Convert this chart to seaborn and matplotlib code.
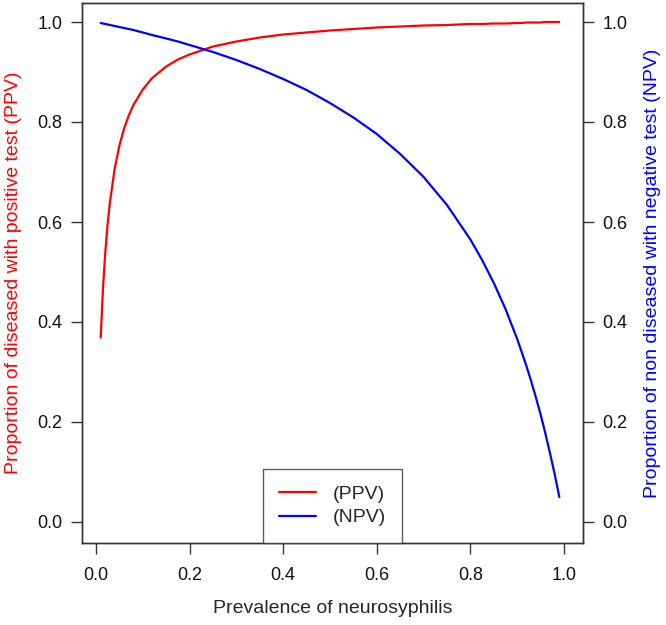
import numpy as np
import pandas as pd
import matplotlib
matplotlib.use("Agg")
import matplotlib.pyplot as plt
import seaborn as sns

# values
prevalence = [0.01, 0.015, 0.02, 0.025, 0.03, 0.04, 0.05, 0.06, 0.07, 0.08, 0.10, 0.12,
              0.15, 0.175, 0.20, 0.25, 0.30, 0.35, 0.40, 0.45, 0.50, 0.55, 0.60, 0.65,
              0.70, 0.75, 0.80, 0.825, 0.85, 0.875, 0.90, 0.91, 0.92, 0.93, 0.94, 0.95,
              0.96, 0.97, 0.98, 0.99]
ppv = [0.369, 0.468, 0.541, 0.597, 0.641, 0.707, 0.753, 0.787, 0.813, 0.834, 0.865, 0.888,
       0.911, 0.925, 0.935, 0.951, 0.961, 0.969, 0.975, 0.979, 0.983, 0.986, 0.989, 0.991,
       0.993, 0.994, 0.996, 0.996, 0.997, 0.997, 0.998, 0.998, 0.999, 0.999, 0.999, 0.999,
       1.000, 1.000, 1.000, 1.000]
npv = [0.998, 0.997, 0.996, 0.995, 0.994, 0.992, 0.990, 0.988, 0.986, 0.984, 0.979, 0.974,
       0.967, 0.961, 0.954, 0.940, 0.924, 0.906, 0.886, 0.864, 0.838, 0.809, 0.776, 0.736,
       0.690, 0.634, 0.565, 0.524, 0.478, 0.426, 0.366, 0.339, 0.311, 0.281, 0.249, 0.215,
       0.178, 0.138, 0.096, 0.050]

df = pd.DataFrame({"prev": prevalence, "PPV": ppv, "NPV": npv})

sns.set_style("ticks")
plt.rcParams['font.family'] = ['Liberation Sans', 'DejaVu Sans']

fig = plt.figure(figsize=(6.66, 6.25), dpi=100)
ax = fig.add_axes([82/666, 1 - 543/625, (583-82)/666, (543-3)/625])
ax2 = ax.twinx()

sns.lineplot(data=df, x="prev", y="PPV", color="#ff0000", lw=1.6, ax=ax, label="(PPV)")
sns.lineplot(data=df, x="prev", y="NPV", color="#0000ff", lw=1.6, ax=ax2, label="(NPV)")

xlim = (-0.0299, 1.0406)
ylim = (-0.042, 1.038)
fmt = matplotlib.ticker.FormatStrFormatter('%.1f')
for a in (ax, ax2):
    a.set_xlim(xlim)
    a.set_ylim(ylim)
    a.set_yticks([0.0, 0.2, 0.4, 0.6, 0.8, 1.0])
    a.yaxis.set_major_formatter(fmt)
    a.tick_params(length=8, width=1, labelsize=13, pad=6, color="#333333", labelcolor="#111111")
    for s in a.spines.values():
        s.set_color("#333333")
        s.set_linewidth(1)
ax.set_xticks([0.0, 0.2, 0.4, 0.6, 0.8, 1.0])
ax.xaxis.set_major_formatter(fmt)
ax.tick_params(axis="x", pad=9)

ax.set_xlabel("Prevalence of neurosyphilis", fontsize=14, labelpad=12)
ax.set_ylabel("Proportion of diseased with positive test (PPV)", color="#ff0000", fontsize=14, labelpad=11)
ax2.set_ylabel("Proportion of non diseased with negative test (NPV)", color="#0000ff", fontsize=14, labelpad=12)

if ax.get_legend():
    ax.get_legend().remove()
h1, l1 = ax.get_legend_handles_labels()
h2, l2 = ax2.get_legend_handles_labels()
leg = ax2.legend(h1 + h2, l1 + l2, loc="lower center", fontsize=14, frameon=True,
                 fancybox=False, edgecolor="#333333", borderaxespad=0, handlelength=1.9,
                 borderpad=0.85, labelspacing=0.3, handletextpad=0.85)
leg.get_frame().set_linewidth(1)

fig.savefig("out.png", dpi=100)
